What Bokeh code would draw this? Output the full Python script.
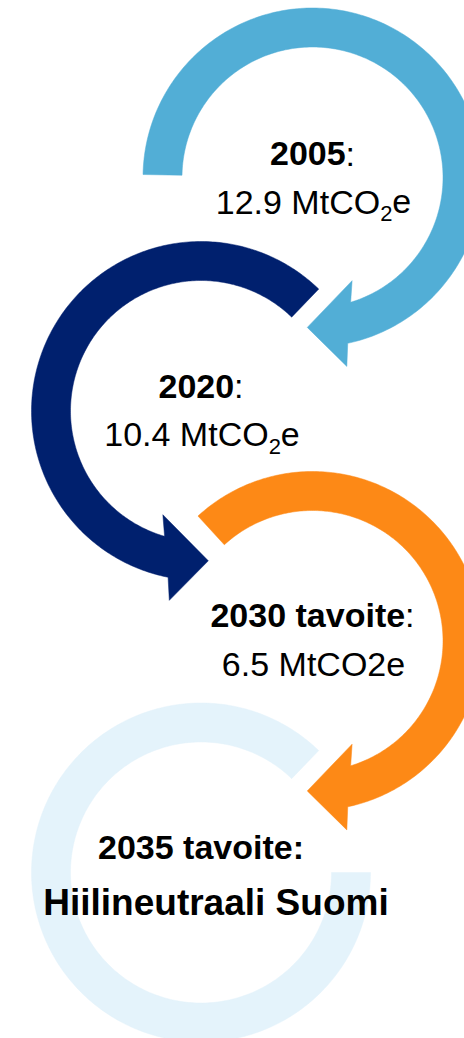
import numpy as np
from bokeh.plotting import figure
from bokeh.models import Range1d
from bokeh.core.properties import value
from bokeh.embed import file_html
from bokeh.resources import INLINE

# ---------------- data ----------------
years = ["2005", "2020", "2030 tavoite", "2035 tavoite"]
emissions = [12.9, 10.4, 6.5]          # MtCO2e
subscript_unit = [True, True, False]   # "CO2" written with subscript 2?
final_label = "Hiilineutraali Suomi"
colors = ["#52AED6", "#00206E", "#FD8916", "#E4F3FB"]

# ---------------- layout (page pixels) ----------------
W, H = 464, 1038
OX, OY = 0, 0
centers = [(312, 177), (200.5, 410.5), (312, 640.5), (200.5, 872)]
tails = [181, -46, -132.5, 0]          # screen angles (deg, y down)
tips = [452, -272.8, 92, 314]
dirs = [1, -1, 1, 1]
has_head = [True, True, True, False]
R_IN, R_OUT = 130.5, 169.5
FS = 34
BASE_FIX = 0.35   # renderer baseline correction (fraction of font size)

p = figure(width=W, height=H, x_range=Range1d(OX, OX + W), y_range=Range1d(OY + H, OY),
           output_backend="svg", toolbar_location=None, min_border=0,
           x_axis_location=None, y_axis_location=None)
p.grid.visible = False
p.outline_line_color = None
p.background_fill_color = "white"
p.border_fill_color = "white"


def arc(cx, cy, r, a0, a1, n=240):
    t = np.radians(np.linspace(a0, a1, n))
    return list(cx + r * np.cos(t)), list(cy + r * np.sin(t))


def arrow(cx, cy, a_tail, a_tip, d, head):
    if head:
        out_end, in_end = a_tip - d * 14, a_tip - d * 19
    else:
        out_end = in_end = a_tip
    xs, ys = arc(cx, cy, R_OUT, a_tail, out_end)
    if head:
        for r, a in [(192, a_tip - d * 12.3), (150, a_tip), (110.5, a_tip - d * 23)]:
            xs.append(cx + r * np.cos(np.radians(a)))
            ys.append(cy + r * np.sin(np.radians(a)))
    xi, yi = arc(cx, cy, R_IN, in_end, a_tail)
    return xs + xi, ys + yi


order = [3, 2, 1, 0]
pxs, pys, pcs = [], [], []
for i in order:
    cx, cy = centers[i]
    xs, ys = arrow(cx, cy, tails[i], tips[i], dirs[i], has_head[i])
    pxs.append(xs); pys.append(ys); pcs.append(colors[i])
p.patches(xs=pxs, ys=pys, fill_color=pcs, line_color=pcs, line_width=0.5)

# ---------------- text ----------------
REG = {c: 556 for c in "0123456789"}
REG.update({".": 278, " ": 278, "M": 833, "t": 278, "C": 722, "O": 778, "e": 556, ":": 278})
BOLD = {c: 556 for c in "0123456789"}
BOLD.update({" ": 278, "t": 333, "a": 556, "v": 556, "o": 611, "i": 278, "e": 556, ":": 333,
             "H": 722, "l": 278, "n": 611, "u": 611, "r": 389, "S": 667, "m": 889})


def width(s, bold, size):
    tab = BOLD if bold else REG
    return sum(tab.get(c, 556) for c in s) * size / 1000.0


def line(runs, xc, base):
    total = sum(width(s, b, sz) for s, b, sz, dy in runs)
    x = xc - total / 2
    for s, b, sz, dy in runs:
        p.text(x=[x], y=[base + dy - BASE_FIX * sz], text=[s], text_font=value("Liberation Sans"),
               text_font_style="bold" if b else "normal", text_font_size=f"{sz}px",
               text_baseline="alphabetic", text_align="left", text_color="black")
        x += width(s, b, sz)


head_dy = [-12, -13, -14, -13.5]
val_dy = [36, 35, 34.5, 43]
for i in range(3):
    cx, cy = centers[i]
    line([(years[i], True, FS, 0), (":", False, FS, 0)], cx, cy + head_dy[i])
    v = f"{emissions[i]} MtCO"
    if subscript_unit[i]:
        runs = [(v, False, FS, 0), ("2", False, 22, 8), ("e", False, FS, 0)]
    else:
        runs = [(v + "2e", False, FS, 0)]
    line(runs, cx + 1, cy + val_dy[i])

cx, cy = centers[3]
line([(years[3] + ":", True, FS, 0)], cx, cy + head_dy[3])
line([(final_label, True, 37, 0)], cx + 15, cy + val_dy[3])

open("out.html", "w").write(file_html(p, INLINE))
